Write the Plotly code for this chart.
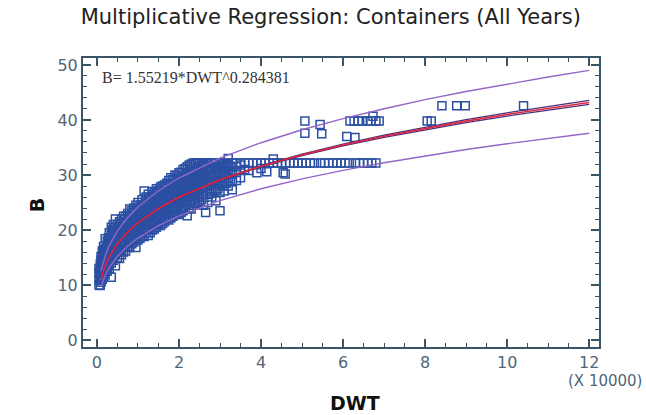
import plotly.graph_objects as go

# ---- data (DWT in units of 10000 t, B in m) ----
col_x = [0.05, 0.08, 0.10, 0.13, 0.16, 0.20, 0.25, 0.30, 0.35, 0.40, 0.45, 0.50, 0.55, 0.60,
         0.65, 0.70, 0.75, 0.80, 0.85, 0.90, 0.95, 1.00, 1.05, 1.10, 1.15, 1.20, 1.25, 1.30,
         1.35, 1.40, 1.45, 1.50, 1.55, 1.60, 1.65, 1.70, 1.75, 1.80, 1.85, 1.90, 1.95, 2.00,
         2.05, 2.10, 2.15, 2.20, 2.25, 2.30, 2.35, 2.40, 2.45, 2.50, 2.55, 2.60, 2.65, 2.70,
         2.80, 2.90, 3.00, 3.10, 3.20, 3.30, 3.40, 3.50]
col_b = [
    [10.0, 11.0, 12.2, 13.0],
    [9.9, 10.8, 11.5, 12.5, 13.8],
    [10.5, 11.2, 12.0, 13.2, 14.5, 15.2],
    [11.0, 12.0, 13.0, 14.0, 15.0, 16.2],
    [11.5, 12.5, 13.5, 14.8, 16.0, 17.0],
    [11.8, 13.0, 14.2, 15.5, 16.5, 18.4],
    [12.5, 13.8, 15.0, 16.0, 17.2, 18.0],
    [13.0, 14.5, 15.5, 16.8, 18.0, 19.5],
    [11.4, 14.0, 15.2, 16.5, 17.5, 19.0, 20.5],
    [14.5, 15.8, 17.0, 18.0, 19.5, 21.0],
    [13.5, 15.5, 16.8, 18.0, 19.2, 20.2, 22.0],
    [15.0, 16.0, 17.5, 18.5, 19.5, 21.0],
    [14.8, 16.5, 17.8, 19.0, 20.0, 21.5],
    [15.5, 17.0, 18.5, 19.5, 20.5, 22.0],
    [16.0, 17.5, 18.8, 20.0, 21.0, 22.5],
    [16.2, 18.0, 19.2, 20.5, 21.5, 22.5],
    [17.0, 18.2, 19.5, 20.8, 21.8, 23.0],
    [16.8, 18.5, 20.0, 21.0, 22.2, 23.8],
    [17.5, 19.0, 20.2, 21.2, 22.5, 23.5],
    [17.8, 19.2, 20.5, 21.8, 23.0, 24.0],
    [16.8, 18.5, 20.0, 21.5, 22.5, 24.5],
    [18.2, 19.5, 20.8, 22.0, 23.2, 25.0],
    [18.5, 20.0, 21.2, 22.5, 23.5, 24.5],
    [19.0, 20.5, 21.8, 23.0, 24.2, 25.5],
    [18.8, 20.2, 22.0, 23.2, 24.5, 27.1],
    [19.5, 21.0, 22.2, 23.5, 24.8, 26.0],
    [19.0, 20.8, 22.5, 23.8, 25.0, 26.5],
    [19.5, 21.2, 22.8, 24.0, 25.2, 26.0],
    [20.0, 21.5, 23.0, 24.2, 25.5, 27.0],
    [20.2, 21.8, 23.2, 24.5, 25.8, 26.8],
    [20.5, 22.0, 23.5, 24.8, 26.0, 27.5],
    [21.0, 22.5, 23.8, 25.0, 26.2, 27.2],
    [20.8, 22.2, 24.0, 25.2, 26.5, 27.8],
    [21.2, 22.8, 24.2, 25.5, 26.8, 28.0],
    [21.5, 23.0, 24.5, 25.8, 27.0, 28.2],
    [22.0, 23.2, 24.8, 26.0, 27.2, 28.5],
    [21.8, 23.5, 25.0, 26.2, 27.5, 29.0],
    [22.2, 23.8, 25.2, 26.5, 27.8, 29.5],
    [22.5, 24.0, 25.5, 26.8, 28.0, 29.2],
    [22.8, 24.2, 25.8, 27.0, 28.2, 30.0],
    [23.0, 24.5, 26.0, 27.2, 28.5, 29.8],
    [22.8, 24.8, 26.2, 27.5, 28.8, 30.4],
    [23.2, 25.0, 26.5, 27.8, 29.0, 30.5],
    [23.5, 25.2, 26.8, 28.0, 29.2, 31.0],
    [23.8, 25.5, 27.0, 28.2, 29.5, 31.2],
    [22.6, 25.8, 27.2, 28.5, 29.8, 31.5],
    [24.0, 26.0, 27.5, 28.8, 30.0, 31.8],
    [23.8, 26.2, 27.8, 29.0, 30.2, 32.0],
    [24.5, 26.5, 28.0, 29.2, 30.5, 32.2],
    [24.8, 26.8, 28.2, 29.5, 30.8, 32.2],
    [25.0, 27.0, 28.5, 29.8, 31.0, 32.2],
    [25.2, 27.2, 28.8, 30.0, 31.2, 32.2],
    [25.5, 27.5, 29.0, 30.2, 31.5, 32.2],
    [24.5, 27.8, 29.2, 30.5, 31.8, 32.2],
    [23.2, 26.5, 28.0, 29.5, 30.8, 32.2],
    [25.0, 27.0, 28.5, 29.8, 31.0, 32.2],
    [26.0, 27.5, 28.8, 30.0, 31.2, 32.2],
    [25.3, 27.2, 29.0, 30.2, 31.5, 32.2],
    [23.5, 26.8, 28.5, 30.0, 31.2, 32.2],
    [27.1, 28.8, 30.2, 31.5, 32.2],
    [28.0, 29.5, 30.8, 31.8, 32.2, 33.0],
    [27.3, 28.8, 30.2, 31.5, 32.2],
    [29.0, 30.5, 31.5, 32.2],
    [29.5, 30.8, 31.8, 32.2],
]

col2_x = [0.12, 0.18, 0.23, 0.28, 0.33, 0.38, 0.43, 0.48, 0.58, 0.68, 0.78, 0.88, 0.98, 1.08,
          1.18, 1.28, 1.38, 1.48, 1.58, 1.68, 1.78, 1.88, 1.98, 2.08, 2.18, 2.28, 2.38, 2.48,
          2.58, 2.75, 2.85, 2.95, 3.05, 3.15, 3.25]
col2_b = [
    [11.5, 12.6, 13.6, 14.6],
    [12.2, 13.4, 14.4, 15.5, 16.5],
    [13.0, 14.3, 15.5, 16.6],
    [13.8, 15.0, 16.2, 17.4, 18.6],
    [14.5, 15.8, 17.0, 18.2],
    [15.0, 16.3, 17.6, 18.8, 20.0],
    [15.5, 16.8, 18.0, 19.2, 20.5],
    [16.0, 17.2, 18.5, 19.8],
    [16.5, 17.8, 19.0, 20.2, 21.2],
    [17.2, 18.5, 19.8, 21.0, 22.0],
    [17.8, 19.0, 20.3, 21.5, 22.6],
    [18.2, 19.6, 20.8, 22.0, 23.2],
    [18.8, 20.2, 21.4, 22.6, 23.8],
    [19.5, 20.8, 22.0, 23.2, 24.6],
    [20.0, 21.4, 22.6, 23.8, 25.2],
    [20.4, 21.8, 23.2, 24.4, 25.6],
    [20.8, 22.2, 23.6, 24.8, 26.2],
    [21.4, 22.8, 24.2, 25.4, 26.6],
    [21.8, 23.4, 24.8, 26.0, 27.2],
    [22.4, 23.8, 25.2, 26.4, 27.6],
    [22.8, 24.4, 25.6, 26.8, 28.2],
    [23.4, 24.8, 26.2, 27.4, 28.6],
    [23.8, 25.4, 26.8, 28.0, 29.4],
    [24.2, 25.8, 27.2, 28.5, 29.8],
    [24.6, 26.2, 27.6, 29.0, 30.2],
    [25.0, 26.8, 28.2, 29.5, 30.8],
    [25.6, 27.2, 28.6, 29.8, 31.2],
    [26.0, 27.6, 29.0, 30.4, 31.6],
    [26.4, 28.0, 29.4, 30.8, 31.8],
    [26.6, 28.2, 29.6, 30.6, 31.6],
    [27.0, 28.5, 29.8, 31.0, 32.0],
    [27.5, 29.0, 30.5, 31.5],
    [28.0, 29.5, 30.8, 31.8],
    [28.5, 30.0, 31.2, 32.0],
    [29.0, 30.5, 31.6],
]

extra_x = [3.6, 3.7, 3.8, 3.9, 4.0, 4.1, 4.2, 4.3, 4.4, 4.5, 4.6, 4.7, 4.8, 4.9, 5.0, 5.1,
           5.2, 5.3, 5.45, 5.55, 5.65, 5.75, 5.85, 5.95, 6.05, 6.15, 6.3, 6.4, 6.5, 6.6, 6.7, 6.8,
           3.6, 3.7, 3.9, 4.0, 4.14, 4.3, 4.54, 4.59,
           5.07, 5.44, 5.07, 5.48, 6.09, 6.29,
           6.17, 6.27, 6.37, 6.47, 6.60, 6.68, 6.80, 6.88, 6.73,
           8.05, 8.15, 8.41, 8.77, 8.98, 10.4]
extra_b = [32.2, 32.2, 32.2, 32.2, 32.2, 32.2, 32.2, 32.2, 32.2, 32.2, 32.2, 32.2, 32.2, 32.2, 32.2, 32.2,
           32.2, 32.2, 32.2, 32.2, 32.2, 32.2, 32.2, 32.2, 32.2, 32.2, 32.2, 32.2, 32.2, 32.2, 32.2, 32.2,
           31.0, 30.8, 30.4, 31.2, 30.6, 32.9, 30.4, 30.2,
           39.8, 39.2, 37.6, 37.5, 37.0, 36.8,
           39.8, 39.8, 39.8, 39.8, 39.8, 39.8, 39.8, 39.8, 40.7,
           39.8, 39.8, 42.6, 42.6, 42.6, 42.6]

fit_x = [0.1, 0.2, 0.3, 0.5, 0.75, 1, 1.5, 2, 3, 4, 5, 6, 7, 8, 9, 10, 11, 12]
fit_b = [11.07, 13.48, 15.13, 17.49, 19.63, 21.31, 23.91, 25.95, 29.12, 31.60,
         33.67, 35.46, 37.05, 38.49, 39.80, 41.01, 42.13, 43.19]
pred_upper = [12.56, 15.30, 17.17, 19.85, 22.28, 24.18, 27.14, 29.45, 33.05, 35.87,
              38.22, 40.25, 42.05, 43.69, 45.17, 46.55, 47.82, 49.02]
pred_lower = [9.63, 11.73, 13.16, 15.22, 17.08, 18.54, 20.80, 22.58, 25.33, 27.49,
              29.29, 30.85, 32.23, 33.49, 34.63, 35.68, 36.65, 37.58]
conf_upper = [11.14, 13.55, 15.20, 17.56, 19.70, 21.38, 23.98, 26.02, 29.20, 31.70,
              33.80, 35.62, 37.25, 38.72, 40.06, 41.30, 42.45, 43.55]
conf_lower = [11.00, 13.41, 15.06, 17.42, 19.56, 21.24, 23.84, 25.88, 29.04, 31.50,
              33.54, 35.30, 36.85, 38.26, 39.54, 40.72, 41.81, 42.83]

x_ticks = [0, 2, 4, 6, 8, 10, 12]
y_ticks = [0, 10, 20, 30, 40, 50]

dwt = ([x for x, bs in zip(col_x, col_b) for _ in bs]
       + [x for x, bs in zip(col2_x, col2_b) for _ in bs] + extra_x)
beam = [b for bs in col_b for b in bs] + [b for bs in col2_b for b in bs] + extra_b

AX = "#3b5566"
LBL = "#4f6677"

fig = go.Figure()
fig.add_trace(go.Scatter(x=dwt, y=beam, mode="markers",
                         marker=dict(symbol="square-open", size=8, color="#2b4fa3",
                                     line=dict(width=1.5, color="#2b4fa3"))))
for yy in (pred_upper, pred_lower):
    fig.add_trace(go.Scatter(x=fit_x, y=yy, mode="lines", line=dict(color="#9566c8", width=1.4)))
for yy in (conf_upper, conf_lower):
    fig.add_trace(go.Scatter(x=fit_x, y=yy, mode="lines", line=dict(color="#4a2d7a", width=1.3)))
fig.add_trace(go.Scatter(x=fit_x, y=fit_b, mode="lines", line=dict(color="#e0263c", width=1.6)))

fig.update_layout(
    width=646, height=415, showlegend=False,
    paper_bgcolor="white", plot_bgcolor="white",
    margin=dict(l=83, r=47, t=58, b=68),
    font=dict(family="DejaVu Sans", size=16, color=LBL),
    title=dict(text="Multiplicative Regression: Containers (All Years)",
               x=0.512, xanchor="center", y=0.959, yanchor="middle",
               font=dict(family="DejaVu Sans", size=21, color="#222222")),
)
common = dict(showgrid=False, zeroline=False, showline=True, linecolor=AX, linewidth=2,
              mirror="allticks", ticks="inside", ticklen=8, tickwidth=1.5, tickcolor=AX,
              automargin=False,
              tickfont=dict(family="DejaVu Sans", size=16, color=LBL))
fig.update_xaxes(range=[-0.34, 12.24], tickvals=x_ticks,
                 minor=dict(dtick=0.5, tick0=0, ticks="inside", ticklen=4, tickcolor=AX, tickwidth=1.2),
                 **common)
fig.update_yaxes(range=[-1.27, 51.27], tickvals=y_ticks,
                 minor=dict(dtick=2, tick0=0, ticks="inside", ticklen=4, tickcolor=AX, tickwidth=1.2),
                 **common)
fig.add_annotation(text="<b>DWT</b>", xref="paper", yref="paper", x=0.527, y=-0.194,
                   xanchor="center", yanchor="middle", showarrow=False,
                   font=dict(family="DejaVu Sans", size=19, color="#111111"))
fig.add_annotation(text="<b>B</b>", xref="paper", yref="paper", x=-0.089, y=0.491,
                   xanchor="center", yanchor="middle", showarrow=False, textangle=-90,
                   font=dict(family="DejaVu Sans", size=19, color="#111111"))
fig.add_annotation(text="B= 1.55219*DWT^0.284381", xref="paper", yref="paper",
                   x=0.033, y=0.931, xanchor="left", yanchor="middle", showarrow=False,
                   font=dict(family="Liberation Serif", size=16, color="#333333"))
fig.add_annotation(text="(X 10000)", xref="paper", yref="paper",
                   x=1.088, y=-0.118, xanchor="right", yanchor="middle", showarrow=False,
                   font=dict(family="DejaVu Sans", size=15, color=LBL))

fig.write_html("out.html", config={"displayModeBar": False},
               post_script="document.body.style.margin='0';document.body.style.padding='0';")
